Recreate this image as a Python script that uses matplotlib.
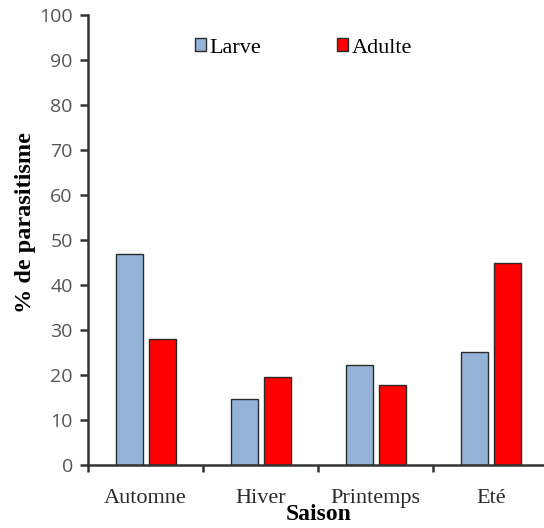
import matplotlib
matplotlib.use("Agg")
import matplotlib.pyplot as plt
import numpy as np

saisons = ["Automne", "Hiver", "Printemps", "Eté"]
larve = [47.0, 14.8, 22.3, 25.2]
adulte = [28.0, 19.6, 17.9, 45.0]
yticks = [0, 10, 20, 30, 40, 50, 60, 70, 80, 90, 100]

plt.rcParams["font.family"] = ["Liberation Serif", "DejaVu Serif"]

fig = plt.figure(figsize=(5.44, 5.28), dpi=100)
ax = fig.add_axes([0.162, 0.119, 0.846, 0.852])

x = np.arange(len(saisons))
w = 0.235
off = 0.143
ax.bar(x - off, larve, w, color="#95b3d7", edgecolor="#2a2a2a", linewidth=1.0, label="Larve")
ax.bar(x + off, adulte, w, color="#ff0000", edgecolor="#2a2a2a", linewidth=1.0, label="Adulte")

ax.set_xlim(-0.5, len(saisons) - 0.5)
ax.set_ylim(0, 100)
ax.set_yticks(yticks)
ax.set_yticklabels([str(v) for v in yticks], fontsize=14, color="#555555",
                   family=["Open Sans", "DejaVu Sans"])
ax.set_xticks(x)
ax.set_xticklabels(saisons, fontsize=16, color="#2b2b2b")
ax.tick_params(axis="x", length=0, pad=17)
ax.set_xticks(np.arange(len(saisons) + 1) - 0.5, minor=True)
ax.tick_params(axis="x", which="minor", length=5, width=1.8, color="#333333", direction="out")
ax.tick_params(axis="y", length=6, width=1.8, color="#333333", direction="out", pad=5)

for s in ["top", "right"]:
    ax.spines[s].set_visible(False)
for s in ["left", "bottom"]:
    ax.spines[s].set_linewidth(1.8)
    ax.spines[s].set_color("#333333")

ax.set_ylabel("% de parasitisme", fontsize=17.5, fontweight="bold")
ax.yaxis.set_label_coords(-0.113, 0.54)
ax.set_xlabel("Saison", fontsize=17, fontweight="bold", labelpad=-3)

leg = fig.legend(loc="center", bbox_to_anchor=(0.558, 1 - 48 / 528), ncol=2, frameon=False,
                 fontsize=16, handlelength=0.5, handleheight=0.5, handletextpad=0.15,
                 columnspacing=3.4)

fig.savefig("out.png", dpi=100)
